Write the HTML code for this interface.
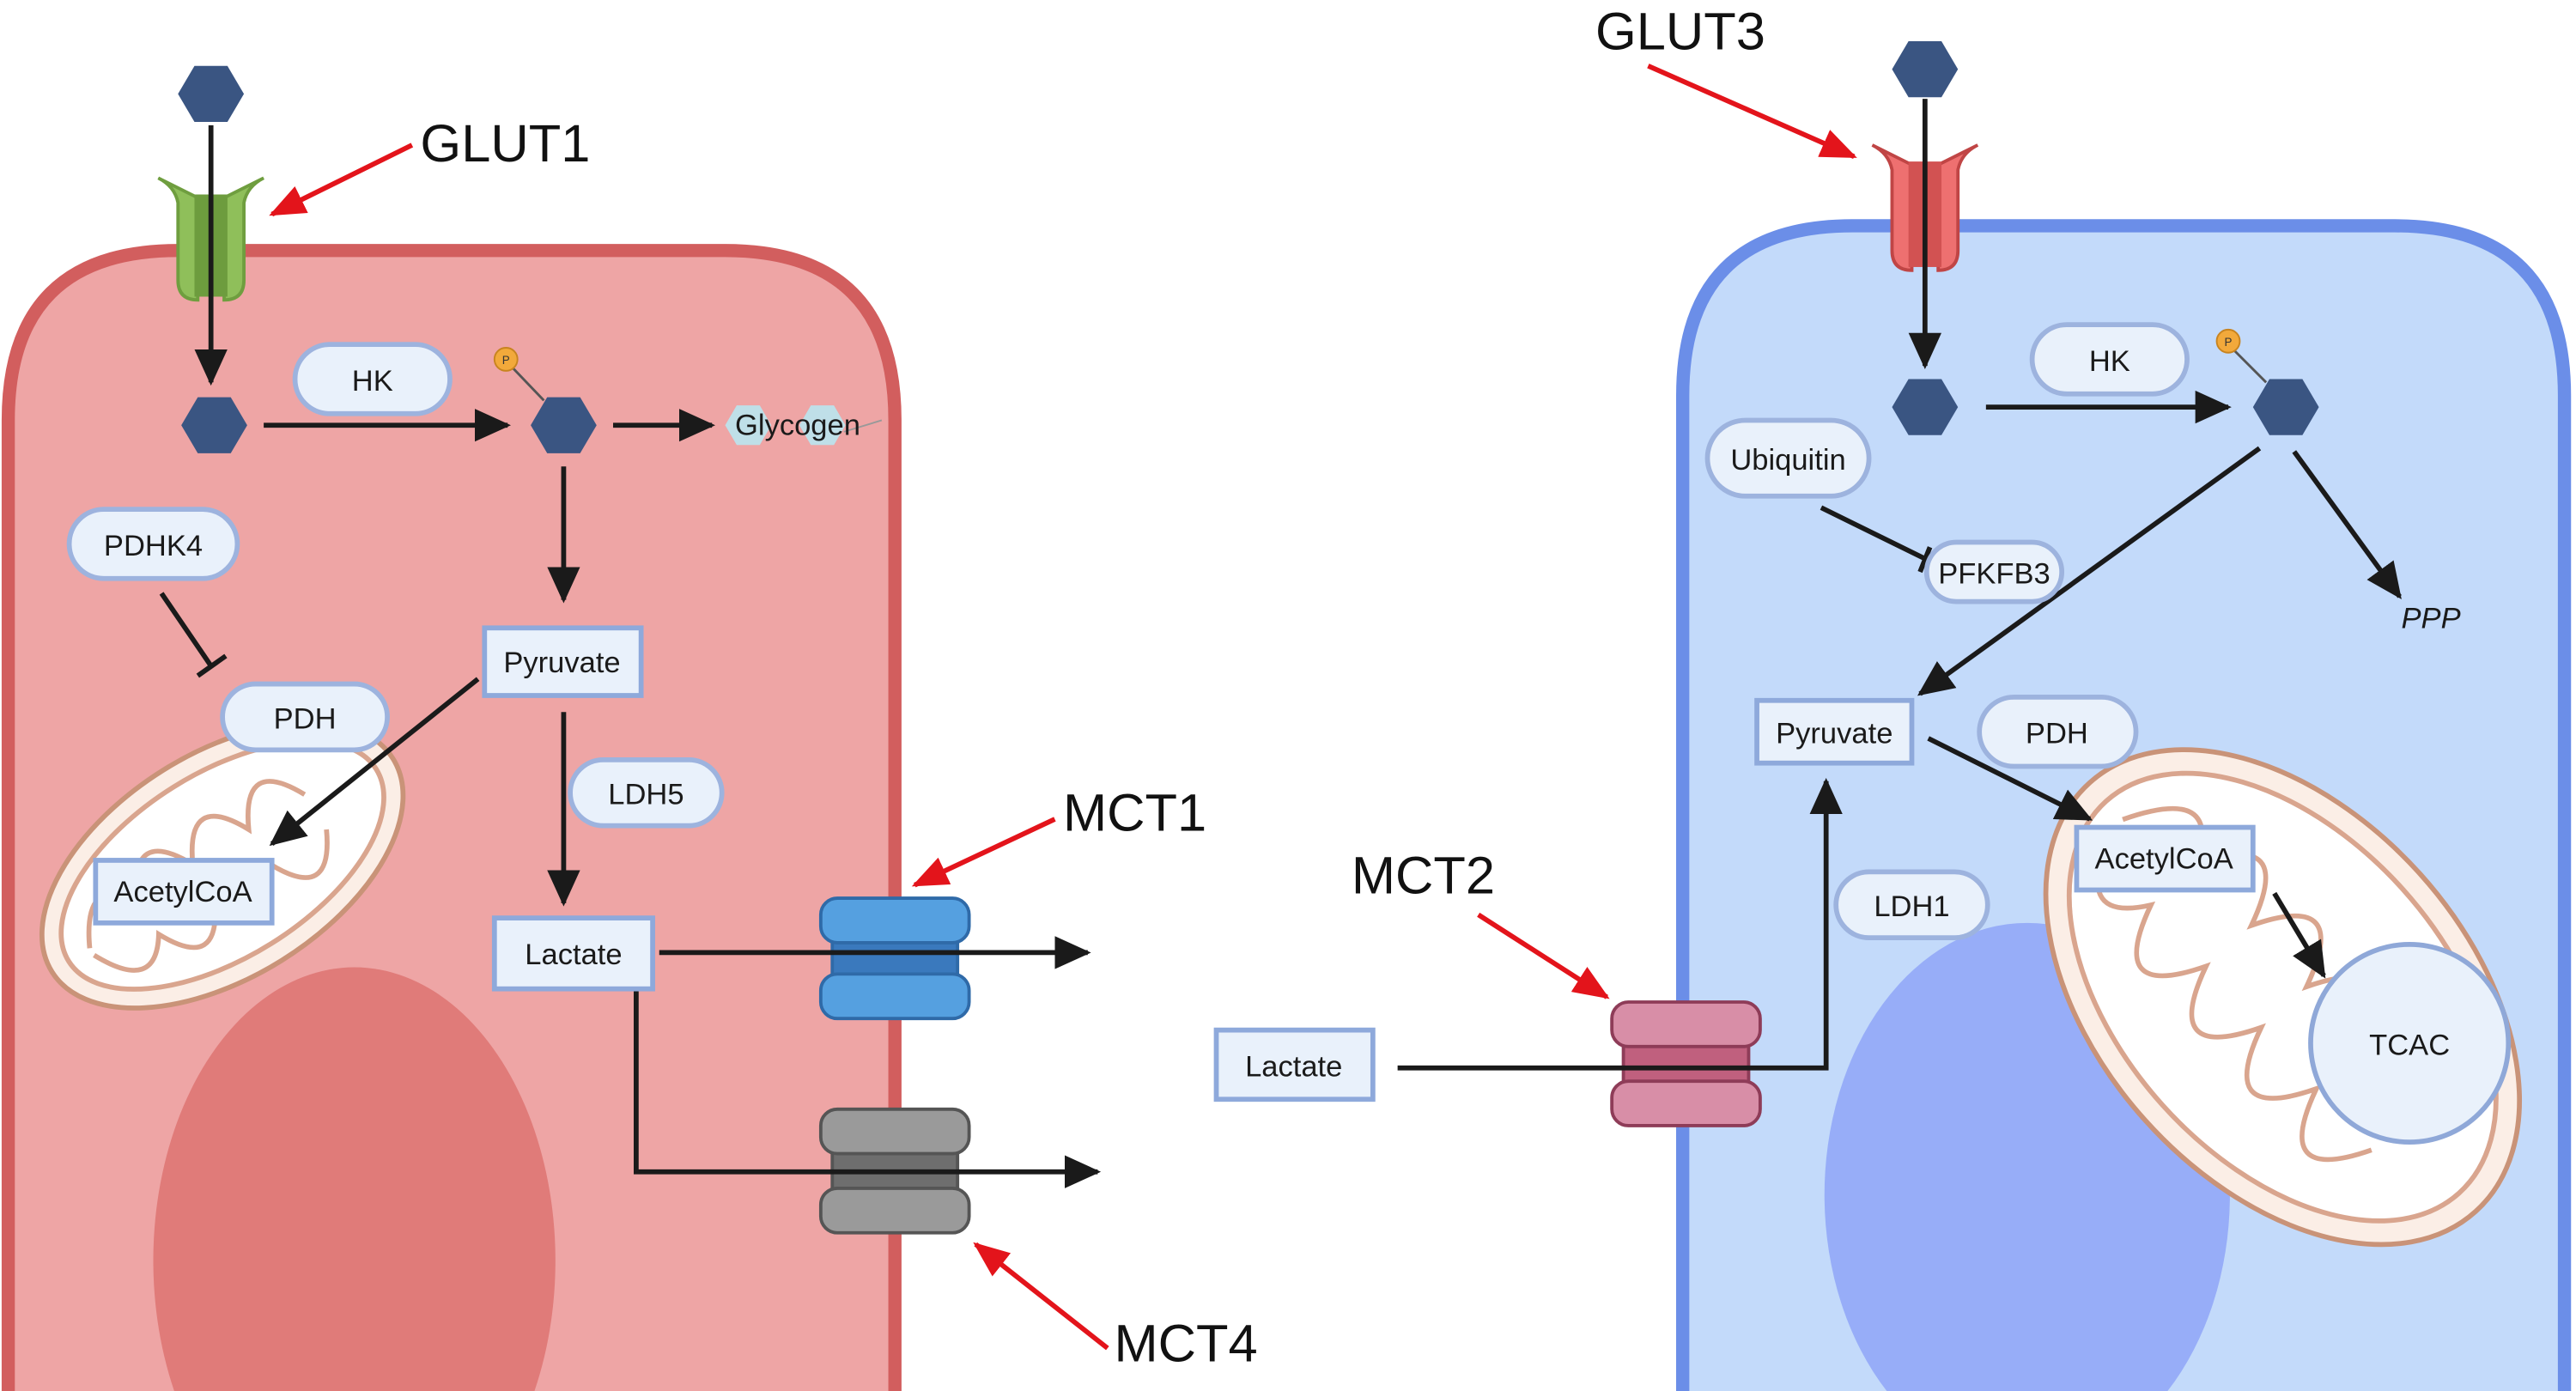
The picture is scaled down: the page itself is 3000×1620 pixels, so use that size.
<!DOCTYPE html>
<html><head><meta charset="utf-8"><style>
html,body{margin:0;padding:0;background:#fff;width:3000px;height:1620px;overflow:hidden;}
svg{display:block;}
text{font-family:"Liberation Sans",sans-serif;}
</style></head><body>
<svg width="3000" height="1620" viewBox="0 0 1563 844" preserveAspectRatio="none" xmlns="http://www.w3.org/2000/svg">
<defs>
<marker id="ab" markerWidth="22" markerHeight="20" refX="20" refY="10" orient="auto" markerUnits="userSpaceOnUse"><path d="M0,0 L22,10 L0,20 z" fill="#1a1a1a"/></marker>
<marker id="ar" markerWidth="22" markerHeight="18" refX="20" refY="9" orient="auto" markerUnits="userSpaceOnUse"><path d="M0,0 L22,9 L0,18 z" fill="#e3141b"/></marker>
</defs>
<rect width="1563" height="844" fill="#fff"/>
<path d="M5,844 L5,255 Q5,152 108,152 L440,152 Q543,152 543,255 L543,844" fill="#eea5a5" stroke="#d25e5e" stroke-width="8"/>
<path d="M105.7,844 A122,178 0 1 1 324.3,844 Z" fill="#e07b79"/>
<g transform="rotate(-32 135 525)">
<ellipse cx="135" cy="525" rx="122" ry="68" fill="#fbeee6" stroke="#c99378" stroke-width="3"/>
<ellipse cx="135" cy="525" rx="110" ry="56" fill="#fff" stroke="#d9a58e" stroke-width="3"/>
<path d="M40,525 q20,-40 40,-10 q20,-40 40,0 q20,-40 40,0 q20,-40 40,0 M40,530 q20,40 40,10 q20,40 40,0 q20,40 40,0 q20,40 40,0" fill="none" stroke="#d9a58e" stroke-width="3"/>
</g>
<path d="M1021,844 L1021,240 Q1021,137 1124,137 L1453,137 Q1556,137 1556,240 L1556,844" fill="#c3dafa" stroke="#6b8ee8" stroke-width="8"/>
<path d="M1144.8,844 A123,165 0 1 1 1315.2,844 Z" fill="#97adf8"/>
<g transform="rotate(48 1385 605)">
<ellipse cx="1385" cy="605" rx="175" ry="112" fill="#fbeee6" stroke="#c99378" stroke-width="3"/>
<ellipse cx="1385" cy="605" rx="160" ry="98" fill="#fff" stroke="#d9a58e" stroke-width="3"/>
<path d="M1240,605 q25,-60 50,-15 q25,-60 50,0 q25,-60 50,0 q25,-60 50,0 q25,-60 50,0 M1240,612 q25,60 50,15 q25,60 50,0 q25,60 50,0 q25,60 50,0 q25,60 50,0" fill="none" stroke="#d9a58e" stroke-width="3"/>
</g>

<g>
<path d="M96,108 q10,5 12,15 L108,170 q0,12 12,12 L120,120 Z" fill="#8fbf5a" stroke="#6f9e3f" stroke-width="2"/>
<path d="M160,108 q-10,5 -12,15 L148,170 q0,12 -12,12 L136,120 Z" fill="#8fbf5a" stroke="#6f9e3f" stroke-width="2"/>
<rect x="118" y="118" width="20" height="62" fill="#6d9c3e"/>
</g>
<g>
<path d="M1136,88 q10,5 12,15 L1148,152 q0,12 12,12 L1160,100 Z" fill="#ee7070" stroke="#c04545" stroke-width="2"/>
<path d="M1200,88 q-10,5 -12,15 L1188,152 q0,12 -12,12 L1176,100 Z" fill="#ee7070" stroke="#c04545" stroke-width="2"/>
<rect x="1158" y="98" width="20" height="64" fill="#d25252"/>
</g>
<g stroke="#2f6aa8" stroke-width="2">
<rect x="505" y="560" width="76" height="40" fill="#3a79bd"/>
<rect x="498" y="545" width="90" height="27" rx="10" fill="#55a0e0"/>
<rect x="498" y="591" width="90" height="27" rx="10" fill="#55a0e0"/>
</g>
<g stroke="#555" stroke-width="2">
<rect x="505" y="690" width="76" height="40" fill="#6e6e6e"/>
<rect x="498" y="673" width="90" height="27" rx="10" fill="#9a9a9a"/>
<rect x="498" y="721" width="90" height="27" rx="10" fill="#9a9a9a"/>
</g>
<g stroke="#8e3c58" stroke-width="2">
<rect x="985" y="625" width="76" height="40" fill="#c0607e"/>
<rect x="978" y="608" width="90" height="27" rx="10" fill="#d88ea7"/>
<rect x="978" y="656" width="90" height="27" rx="10" fill="#d88ea7"/>
</g>

<g fill="#3a5582">
<path d="M108,57 L118,40 L138,40 L148,57 L138,74 L118,74 Z"/>
<path d="M110,258 L120,241 L140,241 L150,258 L140,275 L120,275 Z"/>
<path d="M322,258 L332,241 L352,241 L362,258 L352,275 L332,275 Z"/>
<path d="M1148,42 L1158,25 L1178,25 L1188,42 L1178,59 L1158,59 Z"/>
<path d="M1148,247 L1158,230 L1178,230 L1188,247 L1178,264 L1158,264 Z"/>
<path d="M1367,247 L1377,230 L1397,230 L1407,247 L1397,264 L1377,264 Z"/>
</g>
<line x1="308" y1="220" x2="330" y2="243" stroke="#555" stroke-width="1.5"/>
<circle cx="307" cy="218" r="7" fill="#f2a93b" stroke="#c88420"/>
<text x="307" y="221" font-size="7" text-anchor="middle" fill="#333">P</text>
<line x1="1352" y1="209" x2="1375" y2="232" stroke="#555" stroke-width="1.5"/>
<circle cx="1352" cy="207" r="7" fill="#f2a93b" stroke="#c88420"/>
<text x="1352" y="210" font-size="7" text-anchor="middle" fill="#333">P</text>
<path d="M440,258 L447,246 L461,246 L468,258 L461,270 L447,270 Z" fill="#bfdfe8"/>
<path d="M485,258 L492,246 L506,246 L513,258 L506,270 L492,270 Z" fill="#bfdfe8"/>
<line x1="512" y1="262" x2="535" y2="255" stroke="#999" stroke-width="1"/>

<g stroke="#1a1a1a" stroke-width="3" fill="none" marker-end="url(#ab)">
<line x1="128" y1="76" x2="128" y2="232"/>
<line x1="160" y1="258" x2="308" y2="258"/>
<line x1="372" y1="258" x2="432" y2="258"/>
<line x1="342" y1="283" x2="342" y2="364"/>
<line x1="290" y1="412" x2="165" y2="512"/>
<line x1="342" y1="432" x2="342" y2="548"/>
<line x1="400" y1="578" x2="660" y2="578"/>
<polyline points="386,600 386,711 666,711"/>
<line x1="1168" y1="60" x2="1168" y2="222"/>
<line x1="1205" y1="247" x2="1352" y2="247"/>
<line x1="1371" y1="272" x2="1165" y2="421"/>
<line x1="1392" y1="274" x2="1456" y2="362"/>
<line x1="1170" y1="448" x2="1268" y2="497"/>
<line x1="1380" y1="542" x2="1410" y2="592"/>
<polyline points="848,648 1108,648 1108,474"/>
</g>
<g stroke="#1a1a1a" stroke-width="3">
<line x1="98" y1="360" x2="128" y2="404"/>
<line x1="120" y1="410" x2="137" y2="398"/>
<line x1="1105" y1="308" x2="1168" y2="339"/>
<line x1="1165" y1="347" x2="1171" y2="332"/>
</g>
<g stroke="#e3141b" stroke-width="3" marker-end="url(#ar)">
<line x1="250" y1="88" x2="165" y2="130"/>
<line x1="640" y1="497" x2="555" y2="537"/>
<line x1="672" y1="818" x2="592" y2="755"/>
<line x1="1000" y1="40" x2="1125" y2="95"/>
<line x1="897" y1="555" x2="975" y2="605"/>
</g>

<g fill="#e9f1fb" stroke="#9db3de" stroke-width="3">
<rect x="179" y="209" width="94" height="42" rx="21"/>
<rect x="42" y="309" width="102" height="42" rx="21"/>
<rect x="135" y="415" width="100" height="40" rx="20"/>
<rect x="346" y="461" width="92" height="40" rx="20"/>
<rect x="1233" y="197" width="94" height="42" rx="21"/>
<rect x="1036" y="255" width="98" height="46" rx="23"/>
<rect x="1169" y="329" width="82" height="36" rx="18"/>
<rect x="1201" y="423" width="95" height="42" rx="21"/>
<rect x="1114" y="529" width="92" height="40" rx="20"/>
</g>
<circle cx="1462" cy="633" r="60" fill="#e9f1fb" stroke="#8fa8d8" stroke-width="3"/>
<g fill="#e9f1fb" stroke="#8ea9db" stroke-width="3">
<rect x="294" y="381" width="95" height="41"/>
<rect x="58" y="522" width="107" height="38"/>
<rect x="300" y="557" width="96" height="43"/>
<rect x="738" y="625" width="95" height="42"/>
<rect x="1066" y="425" width="94" height="38"/>
<rect x="1260" y="502" width="107" height="38"/>
</g>

<g font-size="18" fill="#1a1a1a" text-anchor="middle">
<text x="226" y="237">HK</text>
<text x="93" y="337">PDHK4</text>
<text x="185" y="442">PDH</text>
<text x="392" y="488">LDH5</text>
<text x="484" y="264">Glycogen</text>
<text x="341" y="408">Pyruvate</text>
<text x="111" y="547">AcetylCoA</text>
<text x="348" y="585">Lactate</text>
<text x="785" y="653">Lactate</text>
<text x="1280" y="225">HK</text>
<text x="1085" y="285">Ubiquitin</text>
<text x="1210" y="354">PFKFB3</text>
<text x="1113" y="451">Pyruvate</text>
<text x="1248" y="451">PDH</text>
<text x="1313" y="527">AcetylCoA</text>
<text x="1160" y="556">LDH1</text>
<text x="1462" y="640">TCAC</text>
<text x="1475" y="381" font-style="italic">PPP</text>
</g>
<g font-size="32" fill="#111">
<text x="255" y="98">GLUT1</text>
<text x="968" y="30">GLUT3</text>
<text x="645" y="504">MCT1</text>
<text x="820" y="542">MCT2</text>
<text x="676" y="826">MCT4</text>
</g>
</svg>
</body></html>
